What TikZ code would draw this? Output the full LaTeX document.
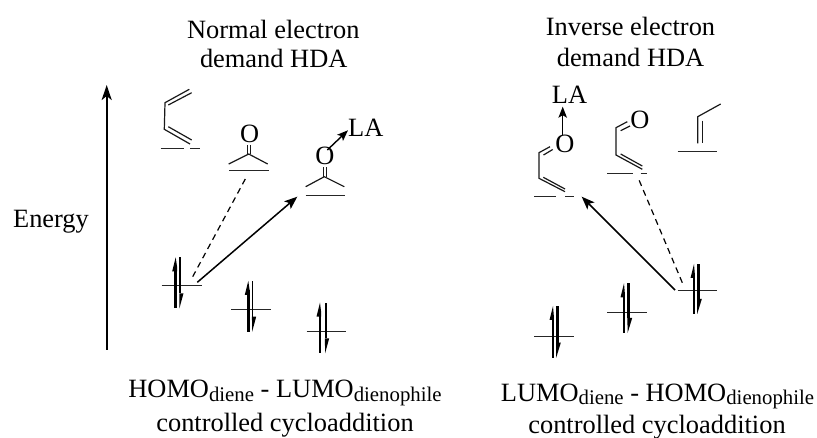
\documentclass[tikz,border=0pt]{standalone}
\usepackage{fontspec}
\setmainfont{Liberation Serif}
\usetikzlibrary{arrows.meta}
\tikzset{
  x=1pt,y=-1pt,
  bond/.style={line width=1.2pt,black!90},
  level/.style={line width=1.3pt,black!85},
  lab/.style={inner sep=0pt,anchor=base,font=\fontsize{26.4}{26.4}\selectfont},
  atom/.style={inner sep=0pt,anchor=center,font=\fontsize{26.4}{26.4}\selectfont},
  react/.style={line width=1.5pt,-{Stealth[length=13pt,width=10pt,inset=3pt]}},
  weak/.style={line width=1.2pt,dash pattern=on 6pt off 4.5pt},
  coord/.style={line width=1.4pt,-{Stealth[length=11pt,width=8.5pt,inset=2.5pt]}},
}
\newcommand{\sbs}[1]{\raisebox{-4pt}{\fontsize{20.8}{20.8}\selectfont #1}}
% \elec{xl}{xr}{top}{bottom}{left width}{right width}
\newcommand{\elec}[6]{%
  \fill[black] (#1-#5/2,#4) rectangle (#1+#5/2,#3+9);
  \fill[black] (#1,#3) -- (#1+#5/2,#3+9) -- (#1+#5/2,#3+14) -- (#1-3.5,#3+14) -- cycle;
  \fill[black] (#2-#6/2,#3) rectangle (#2+#6/2,#4-15);
  \fill[black] (#2-#6/2,#4-15) -- (#2+3.5,#4-15) -- (#2-#6/2+.2,#4) -- cycle;
}
\newcommand{\hlevel}[3]{\draw[level] (#1,#3) -- (#2,#3);}
\begin{document}
\begin{tikzpicture}
\useasboundingbox (0,0) rectangle (817,438);
% headings
\node[lab] (t1a) at (273.3,38.3) {Normal electron};
\node[lab] (t1b) at (273.7,68) {demand HDA};
\node[lab] (t2a) at (630.5,35.7) {Inverse electron};
\node[lab] (t2b) at (630.5,66.7) {demand HDA};
\node[lab] (en) at (51,227.7) {Energy};
\node[lab] (b1a) at (285,397.7) {HOMO\sbs{diene} - LUMO\sbs{dienophile}};
\node[lab] (b1b) at (285,431.7) {controlled cycloaddition};
\node[lab] (b2a) at (657.5,401) {LUMO\sbs{diene} - HOMO\sbs{dienophile}};
\node[lab] (b2b) at (657,433) {controlled cycloaddition};
% energy axis
\coordinate (e0) at (106.7,350);
\coordinate (e1) at (106.7,85);
\draw[line width=2.2pt,-{Stealth[length=15pt,width=10pt,inset=4pt]}] (e0) -- (e1);
% --- normal: diene
\draw[bond] (189.3,89.3) -- (165,102.7) -- (164.3,129.3) -- (190,144);
\draw[bond] (168.3,105) -- (191.7,92.7);
\draw[bond] (168.3,126.7) -- (191.7,140);
\hlevel{160.7}{184}{148.5}
\hlevel{190}{200}{148.5}
% --- normal: carbonyl
\node[atom] (o1) at (249.7,134) {O};
\draw[bond] (247.3,145) -- (247.3,154) (250.5,145) -- (250.5,154);
\draw[bond] (228.7,164) -- (248.7,154) -- (267.7,164);
\hlevel{229.3}{269}{170.5}
% --- normal: activated carbonyl
\node[atom] (o2) at (325,156) {O};
\node[lab,anchor=base west] (la1) at (348,137) {LA};
\draw[bond] (323.3,167.3) -- (323.3,176.7) (326.3,167.3) -- (326.3,176.7);
\draw[bond] (305.7,186.7) -- (324.3,176.7) -- (344.3,186.7);
\hlevel{305.7}{344.7}{195.5}
\coordinate (a1s) at (327.3,150);
\draw[coord] (a1s) -- ([yshift=-2pt]la1.west);
% --- normal: occupied levels
\hlevel{161.7}{201.7}{285.5}
\hlevel{231}{270.7}{309.5}
\hlevel{306.7}{346}{331.5}
\elec{175.7}{180}{257.3}{308.3}{2.6}{1.5}
\elec{248.3}{252.7}{281}{331.7}{2.6}{1.5}
\elec{320}{325.7}{302.7}{353.3}{2.2}{1.6}
% --- normal: interactions
\coordinate (n1) at (197.3,282.3);
\coordinate (n2) at (297.3,196.7);
\coordinate (n3) at (192.7,276.7);
\coordinate (n4) at (246,177.7);
\draw[react] (n1) -- (n2);
\draw[weak] (n3) -- (n4);
% --- inverse: activated heterodiene
\node[atom] (o3) at (565,144.3) {O};
\node[lab,anchor=base west] (la2) at (551.7,103.3) {LA};
\coordinate (a2s) at (562.7,135);
\coordinate (a2e) at (562.7,106.7);
\draw[coord] (a2s) -- (a2e);
\draw[bond] (550,146.7) -- (539,152.7) -- (539,178.3) -- (565,191.7);
\draw[bond] (543.5,155) -- (552.7,149.5);
\draw[bond] (543.3,177.3) -- (565,189);
\hlevel{534.3}{556}{196.5}
\hlevel{565}{574}{196.5}
% --- inverse: heterodiene
\node[atom] (o4) at (640,120) {O};
\draw[bond] (627.3,121.7) -- (616,127.7) -- (616,155) -- (642.3,169.3);
\draw[bond] (620.7,130.7) -- (630,126);
\draw[bond] (620.7,154) -- (642.3,166);
\hlevel{607.3}{633.3}{173.5}
\hlevel{640.7}{646.7}{173.5}
% --- inverse: alkene
\draw[bond] (720.7,104) -- (697.7,116.7) -- (697.7,143.3);
\draw[bond] (702.7,120.7) -- (702.7,143.3);
\hlevel{677.7}{717.3}{151.5}
% --- inverse: occupied levels
\hlevel{677.7}{717.3}{290.5}
\hlevel{607}{646.7}{312.5}
\hlevel{534}{574}{336.5}
\elec{694}{698.3}{264}{314}{1.5}{2.6}
\elec{624}{628.7}{283.3}{333}{1.5}{2.6}
\elec{553}{557.3}{306}{357.7}{1.5}{2.6}
% --- inverse: interactions
\coordinate (i1) at (675,290);
\coordinate (i2) at (581.7,196.7);
\coordinate (i3) at (682.3,282.7);
\coordinate (i4) at (638.3,178.3);
\draw[react] (i1) -- (i2);
\draw[weak] (i3) -- (i4);
\end{tikzpicture}
\end{document}
